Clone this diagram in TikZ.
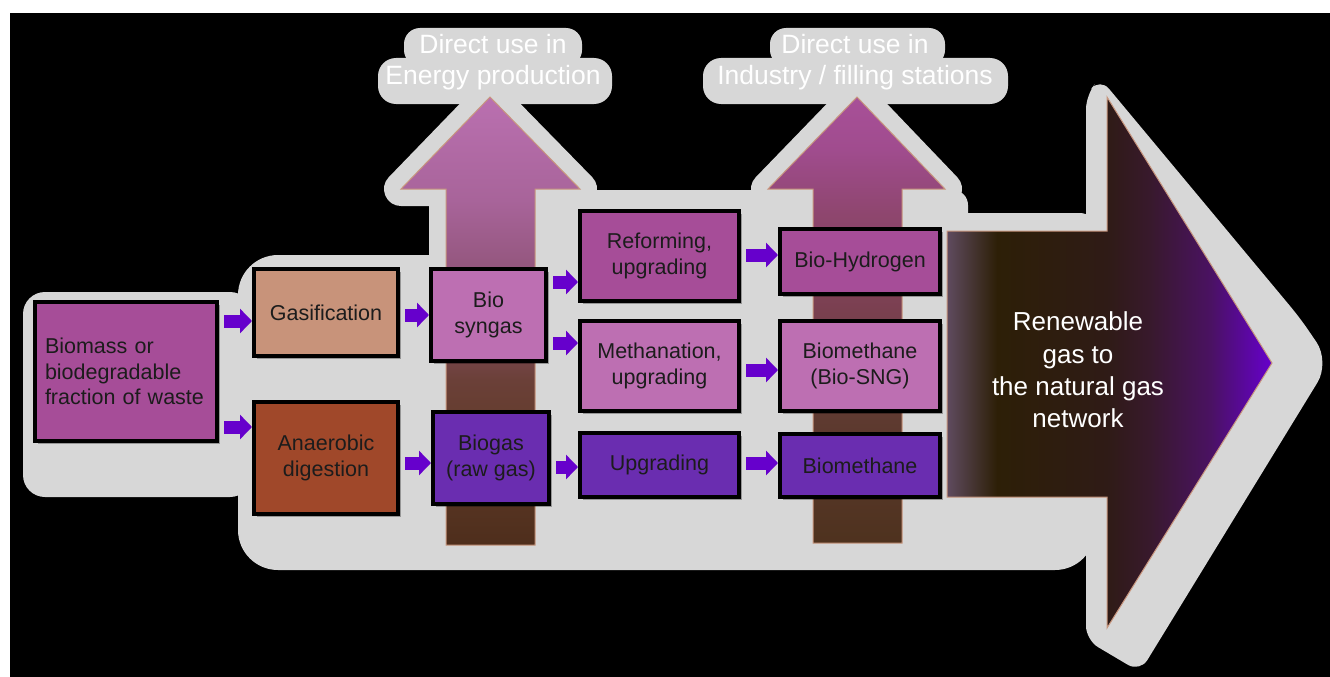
\documentclass[tikz,border=0pt]{standalone}
\usepackage{fontspec}
\setmainfont{Liberation Sans}
\usetikzlibrary{arrows.meta,shadows}
\definecolor{glowc}{HTML}{D7D7D7}
\definecolor{cMag}{HTML}{A64D98}
\definecolor{cPink}{HTML}{BD6FB2}
\definecolor{cViol}{HTML}{6A2DB0}
\definecolor{cTan}{HTML}{C8937A}
\definecolor{cRust}{HTML}{A0482A}
\definecolor{cArr}{HTML}{6600CC}
\definecolor{cEdge}{HTML}{C8967E}
\definecolor{cText}{HTML}{1C1C1C}
% up arrow 1
\definecolor{aA}{HTML}{4E2E1C}
\definecolor{aB}{HTML}{603A28}
\definecolor{aC}{HTML}{6B4038}
\definecolor{aD}{HTML}{8A5070}
\definecolor{aE}{HTML}{A8649A}
\definecolor{aF}{HTML}{BA70B0}
% up arrow 2
\definecolor{bA}{HTML}{4E321E}
\definecolor{bB}{HTML}{5E3A30}
\definecolor{bC}{HTML}{7A4050}
\definecolor{bD}{HTML}{8E466E}
\definecolor{bE}{HTML}{A04C8E}
\definecolor{bF}{HTML}{A85098}
% big arrow
\definecolor{gA}{HTML}{5F4B5F}
\definecolor{gB}{HTML}{2D1F07}
\definecolor{gC}{HTML}{2F1B16}
\definecolor{gD}{HTML}{38192C}
\definecolor{gE}{HTML}{4A1262}
\definecolor{gF}{HTML}{6600CC}
\pgfdeclareverticalshading{upshA}{100bp}{color(0bp)=(aA); color(25bp)=(aA); color(35.6bp)=(aB); color(43.4bp)=(aC); color(52.3bp)=(aD); color(63.5bp)=(aE); color(75bp)=(aF); color(100bp)=(aF)}
\pgfdeclareverticalshading{upshB}{100bp}{color(0bp)=(bA); color(25bp)=(bA); color(38.8bp)=(bB); color(51.1bp)=(bC); color(61.8bp)=(bD); color(69.1bp)=(bE); color(75bp)=(bF); color(100bp)=(bF)}
\pgfdeclarehorizontalshading{bigsh}{100bp}{color(0bp)=(gA); color(25bp)=(gA); color(32.7bp)=(gB); color(49.6bp)=(gC); color(56.2bp)=(gD); color(65.5bp)=(gE); color(75bp)=(gF); color(100bp)=(gF)}
\newcommand\bxfont{\fontsize{21.5}{25.5}\selectfont}
\newcommand\ttlfont{\fontsize{26.5}{31}\selectfont}
\newcommand\rnfont{\fontsize{26}{32.3}\selectfont}
\begin{document}
\begin{tikzpicture}[x=1pt,y=-1pt,
  box/.style={draw=black, line width=4pt, text=cText, align=center, inner sep=0pt, font=\bxfont,
    drop shadow={shadow xshift=2.5pt, shadow yshift=-3pt, opacity=0.3, fill=black}},
  conn/.style={line width=13pt, cArr, shorten <=5pt, -{Triangle[length=12pt,width=24pt]}},
  glowpart/.style={fill=glowc},
  glowline/.style={fill=glowc, draw=glowc, line join=round, line width=34pt},
  uparrow/.style={draw=cEdge, line width=1pt},
  ttl/.style={text=white, align=center, font=\ttlfont, inner sep=0pt},
  rn/.style={text=white, align=center, font=\rnfont, inner sep=0pt}]
\useasboundingbox (0,0) rectangle (1330,677);
\clip (0,0) rectangle (1330,677);
\fill[white] (0,0) rectangle (1330,677);
\fill[black] (10,13) rectangle (1330,677);
% grey glow behind the diagram
\fill[glowpart, rounded corners=22pt] (23,292) rectangle (252,497);
\fill[glowpart, rounded corners=40pt] (238,255) rectangle (1095,570);
\fill[glowpart, rounded corners=15pt] (540,190) rectangle (968,262);
\fill[glowpart, rounded corners=15pt] (940,213) rectangle (1095,300);
\path[glowline] (446,545) -- (446,189) -- (401,189) -- (490,97) -- (580,189) -- (535,189) -- (535,545) -- cycle;
\path[glowline] (813,543) -- (813,189) -- (768,189) -- (857,97) -- (945,189) -- (902,189) -- (902,543) -- cycle;
\fill[glowpart, rounded corners=14pt] (1086,300) -- (1086,95) -- (1100,78) -- (1300,318) [rounded corners=24pt] -- (1330,362) [rounded corners=14pt] -- (1140,672) -- (1086,640) -- (1086,450) -- cycle;
\fill[glowpart, rounded corners=16pt] (404,28) rectangle (582,66);
\fill[glowpart, rounded corners=18pt] (378,58) rectangle (612,104);
\fill[glowpart, rounded corners=16pt] (770,28) rectangle (945,66);
\fill[glowpart, rounded corners=18pt] (703,58) rectangle (1008,104);
% up arrows
\shadedraw[uparrow, shading=upshA] (446,545) -- (446,189) -- (401,189) -- (490,97) -- (580,189) -- (535,189) -- (535,545) -- cycle;
\shadedraw[uparrow, shading=upshB] (813,543) -- (813,189) -- (768,189) -- (857,97) -- (945,189) -- (902,189) -- (902,543) -- cycle;
% big arrow
\shadedraw[uparrow, shading=bigsh] (947,231) -- (1107,231) -- (1107,97) -- (1272,363) -- (1107,628) -- (1107,497) -- (947,497) -- cycle;
% boxes
\node[box, fill=cMag, minimum width=182pt, minimum height=139pt, text width=162pt, align=left, inner xsep=10pt] (bio) at (126,371.5) {Biomass or\\biodegradable\\fraction of waste};
\node[box, fill=cTan, minimum width=144pt, minimum height=87pt] (gas) at (326,312.5) {Gasification};
\node[box, fill=cRust, minimum width=144pt, minimum height=112pt] (ana) at (326,458) {Anaerobic\\digestion};
\node[box, fill=cPink, minimum width=115pt, minimum height=92pt] (syn) at (488.5,315) {Bio\\syngas};
\node[box, fill=cViol, minimum width=116pt, minimum height=92pt] (biogas) at (491,458) {Biogas\\(raw gas)};
\node[box, fill=cMag, minimum width=159pt, minimum height=90pt] (ref) at (659.5,256) {Reforming,\\upgrading};
\node[box, fill=cPink, minimum width=159pt, minimum height=90pt] (meth) at (659.5,366) {Methanation,\\upgrading};
\node[box, fill=cViol, minimum width=159pt, minimum height=64pt] (upg) at (659.5,465) {Upgrading};
\node[box, fill=cMag, minimum width=160pt, minimum height=65pt] (h2) at (860,261.5) {Bio-Hydrogen};
\node[box, fill=cPink, minimum width=160pt, minimum height=90pt] (sng) at (860,366) {Biomethane\\(Bio-SNG)};
\node[box, fill=cViol, minimum width=160pt, minimum height=63pt] (bm) at (860,465.5) {Biomethane};
% connectors
\draw[conn] (bio.east |- 0,321) -- (gas.west |- 0,321);
\draw[conn] (bio.east |- 0,427) -- (ana.west |- 0,427);
\draw[conn] (gas.east |- 0,315) -- (syn.west |- 0,315);
\draw[conn] (ana.east |- 0,463) -- (biogas.west |- 0,463);
\draw[conn] (syn.east |- 0,282) -- (ref.west |- 0,282);
\draw[conn] (syn.east |- 0,343) -- (meth.west |- 0,343);
\draw[conn] (biogas.east |- 0,467) -- (upg.west |- 0,467);
\draw[conn] (ref.east |- 0,255) -- (h2.west |- 0,255);
\draw[conn] (meth.east |- 0,370) -- (sng.west |- 0,370);
\draw[conn] (upg.east |- 0,463) -- (bm.west |- 0,463);
% texts
\node[ttl] (t1) at (493,62.5) {Direct use in\\Energy production};
\node[ttl] (t2) at (855,62.5) {Direct use in\\Industry / filling stations};
\node[rn] (rtxt) at (1078,370) {Renewable\\gas to\\the natural gas\\network};
\end{tikzpicture}
\end{document}
